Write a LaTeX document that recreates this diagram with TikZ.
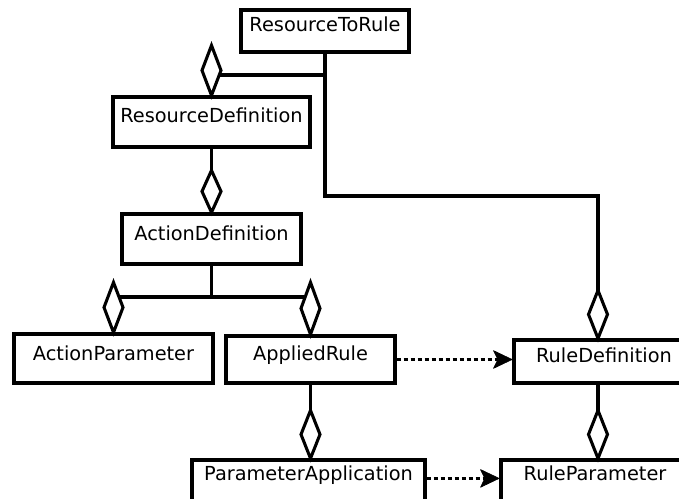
\documentclass[tikz,border=0pt]{standalone}
\usepackage{fontspec}
\setmainfont{DejaVu Sans}
\usetikzlibrary{arrows.meta}
\tikzset{
  cls/.style={draw, line width=2.4pt, inner sep=0pt, anchor=base, font=\fontsize{14.5pt}{16pt}\selectfont, fill=white},
  conn/.style={line width=2.3pt, line join=miter},
  aggst/.style={line width=2.3pt, fill=white, line join=miter},
  dep/.style={line width=1.8pt, dash pattern=on 3pt off 2.25pt, -{Stealth[length=15pt, width=14.25pt, inset=3.5pt, line width=0.5pt, round]}}
}
\newcommand\aggdia[2]{\draw[aggst] (#1) -- ++(9.5,-#2/2) -- ++(-9.5,-#2/2) -- ++(-9.5,#2/2) -- cycle;}
\begin{document}
\begin{tikzpicture}[x=0.75pt, y=-0.75pt]
\useasboundingbox (0,0) rectangle (679,499);
\fill[white] (0,0) rectangle (679,499);
\clip (0,0) rectangle (679,499);

\node[cls, minimum width=126pt, text height=16.5pt, text depth=15pt] (RTR) at (325,32) {ResourceToRule};
\node[cls, minimum width=147.75pt, text height=19.5pt, text depth=18pt] (RD) at (211.5,123) {ResourceDefinition};
\node[cls, minimum width=134.25pt, text height=20.25pt, text depth=17.25pt] (AD) at (211.5,241) {ActionDefinition};
\node[cls, minimum width=149.25pt, text height=19.5pt, text depth=17.25pt] (AP) at (113.5,360) {ActionParameter};
\node[cls, minimum width=126.75pt, text height=18pt, text depth=17.25pt] (AR) at (310.5,360) {AppliedRule};
\node[cls, minimum width=135pt, text height=17.25pt, text depth=15pt] (RDf) at (604,363) {RuleDefinition\hspace{9pt}};
\node[cls, minimum width=141pt, text height=15pt, text depth=26.25pt] (RP) at (595,480) {RuleParameter};
\node[cls, minimum width=174.75pt, text height=15pt, text depth=26.25pt] (PA) at (308.5,480) {ParameterApplication};

\coordinate (j1) at (325,75);
\coordinate (k1) at (325,196);
\coordinate (j2) at (211.5,297);
\coordinate (rdx) at (598,340);

\draw[conn] (RTR.south) -- (k1) -| (rdx |- RDf.north);
\draw[conn] (j1) -| (RD.north);
\draw[conn] (RD.south) -- (AD.north);
\draw[conn] (AD.south) -- (j2);
\draw[conn] (AP.north) |- (j2) -| (AR.north);
\draw[conn] (AR.south) -- (AR.south |- PA.north);
\draw[conn] (rdx |- RDf.south) -- (rdx |- RP.north);

\aggdia{RD.north}{50}
\aggdia{AD.north}{42}
\aggdia{AP.north}{50}
\aggdia{AR.north}{52}
\aggdia{rdx |- RDf.north}{48}
\aggdia{AR.south |- PA.north}{48}
\aggdia{rdx |- RP.north}{48}

\draw[dep] (AR.east) -- (AR.east -| RDf.west);
\draw[dep] ([yshift=-15pt]PA.north east) -- ([yshift=-15pt]RP.north west);
\end{tikzpicture}
\end{document}
